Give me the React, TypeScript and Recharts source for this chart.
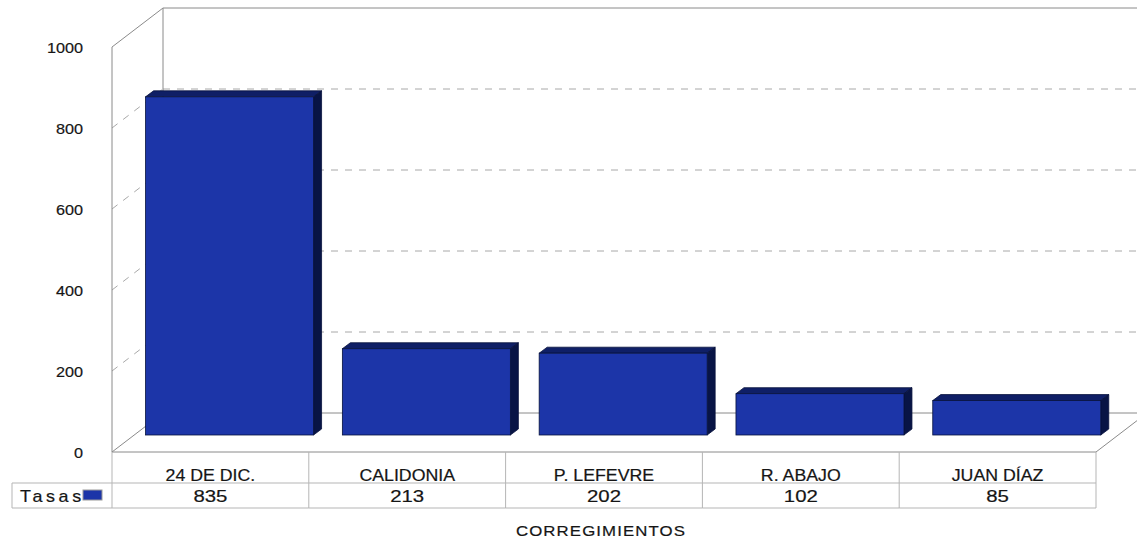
import { BarChart, Bar, XAxis, YAxis, CartesianGrid } from "recharts"

const categories = ["24 DE DIC.", "CALIDONIA", "P. LEFEVRE", "R. ABAJO", "JUAN DÍAZ"]
const tasas = [835, 213, 202, 102, 85]
const yTicks = [0, 200, 400, 600, 800, 1000]
const seriesName = "Tasas"
const axisTitle = "CORREGIMIENTOS"

const data = categories.map((name, i) => ({ name, tasas: tasas[i] }))

// layout
const W = 1137
const H = 541
const LEFT = 112
const RIGHT = 41
const TOP = 47
const XAXIS_H = 89
const BAND = (W - LEFT - RIGHT) / categories.length
const TABLE_TOP = H - XAXIS_H
const ROW1 = 31
const ROW2 = 25
const TASAS_LEFT = 12

// fake 3d
const DEPTH_X = 51
const DEPTH_Y = -39
const BAR_SHIFT_X = 19
const BAR_SHIFT_Y = -17
const BAR_DX = 8
const BAR_DY = -6

const FONT = '"Liberation Sans", Arial, sans-serif'
const FRONT = "#1c35a8"
const TOPFACE = "#0f1f66"
const SIDE = "#081445"
const EDGE = "#07123c"
const WALL = "#8a8a8a"
const TABLE_LINE = "#b5b5b5"
const INK = "#151515"

// scanned text in the source looks wider than normal Arial
function WideText(props: any) {
  const { x, y, sx = 1, size, anchor = "middle", ls = 0, children } = props
  return (
    <text
      transform={`translate(${x},${y}) scale(${sx},1)`}
      textAnchor={anchor}
      fontSize={size}
      fontFamily={FONT}
      fill={INK}
      stroke={INK}
      strokeWidth={0.2}
      letterSpacing={ls}
    >
      {children}
    </text>
  )
}

function Bar3D(props: any) {
  const { x, y, width, height } = props
  if (!height) return null
  const fx = x + BAR_SHIFT_X
  const fy = y + BAR_SHIFT_Y
  const r = fx + width
  const b = fy + height
  return (
    <g>
      <polygon
        points={`${fx},${fy} ${fx + BAR_DX},${fy + BAR_DY} ${r + BAR_DX},${fy + BAR_DY} ${r},${fy}`}
        fill={TOPFACE}
        stroke={EDGE}
        strokeWidth={0.8}
      />
      <polygon
        points={`${r},${fy} ${r + BAR_DX},${fy + BAR_DY} ${r + BAR_DX},${b + BAR_DY} ${r},${b}`}
        fill={SIDE}
        stroke={EDGE}
        strokeWidth={0.8}
      />
      <rect x={fx} y={fy} width={width} height={height} fill={FRONT} stroke={EDGE} strokeWidth={0.8} />
    </g>
  )
}

// every horizontal grid line becomes side wall + back wall line
function WallLine(props: any) {
  const { x1, y1, x2, y: top, height } = props
  const bottom = top + height
  const bx1 = x1 + DEPTH_X
  const bx2 = x2 + DEPTH_X
  const by = y1 + DEPTH_Y
  if (Math.abs(y1 - bottom) < 0.5) {
    return (
      <g stroke={WALL} strokeWidth={1} fill="none">
        <line x1={x1} y1={y1} x2={x2} y2={y1} />
        <line x1={x1} y1={y1} x2={bx1} y2={by} />
        <line x1={bx1} y1={by} x2={bx2} y2={by} />
        <line x1={x2} y1={y1} x2={bx2} y2={by} />
      </g>
    )
  }
  if (Math.abs(y1 - top) < 0.5) {
    return (
      <g stroke={WALL} strokeWidth={1} fill="none">
        <line x1={x1} y1={y1} x2={bx1} y2={by} />
        <line x1={bx1} y1={by} x2={bx2} y2={by} />
        <line x1={x1} y1={y1} x2={x1} y2={y1 + height} />
        <line x1={bx1} y1={by} x2={bx1} y2={by + height} />
      </g>
    )
  }
  return (
    <g stroke="#a8a8a8" strokeWidth={1} strokeDasharray="7 7" fill="none">
      <line x1={x1} y1={y1} x2={bx1} y2={by} />
      <line x1={bx1} y1={by} x2={bx2} y2={by} />
    </g>
  )
}

function YTick(props: any) {
  const { x, y, payload } = props
  return (
    <WideText x={x} y={y + 5.5} sx={1.08} size={15} anchor="end">
      {payload.value}
    </WideText>
  )
}

function TableTick(props: any) {
  const { x, payload } = props
  const i = categories.indexOf(payload.value)
  const l = x - BAND / 2
  const r = x + BAND / 2
  const mid = TABLE_TOP + ROW1
  const bot = mid + ROW2
  return (
    <g>
      <g stroke={TABLE_LINE} strokeWidth={1}>
        <line x1={r} y1={TABLE_TOP} x2={r} y2={bot} />
        <line x1={l} y1={mid} x2={r} y2={mid} />
        <line x1={l} y1={bot} x2={r} y2={bot} />
        {i === 0 && <line x1={l} y1={TABLE_TOP} x2={l} y2={bot} />}
      </g>
      <WideText x={x} y={TABLE_TOP + 28.5} sx={1.11} size={16}>
        {payload.value}
      </WideText>
      <WideText x={x} y={mid + 18.5} sx={1.2} size={17}>
        {tasas[i]}
      </WideText>
      {i === 0 && (
        <g>
          <g stroke={TABLE_LINE} strokeWidth={1}>
            <line x1={TASAS_LEFT} y1={mid} x2={l} y2={mid} />
            <line x1={TASAS_LEFT} y1={bot} x2={l} y2={bot} />
            <line x1={TASAS_LEFT} y1={mid} x2={TASAS_LEFT} y2={bot} />
          </g>
          <WideText x={TASAS_LEFT + 8} y={mid + 18.5} sx={1.12} size={16} anchor="start" ls={3.2}>
            {seriesName}
          </WideText>
          <rect x={l - 29} y={mid + 7} width={19} height={10} fill={FRONT} stroke="#9a9a9a" strokeWidth={1} />
        </g>
      )}
    </g>
  )
}

function AxisTitle(props: any) {
  const { viewBox } = props
  const cx = viewBox.x + viewBox.width / 2
  const by = viewBox.y + viewBox.height - 5
  return (
    <WideText x={cx - 3} y={by} sx={1.12} size={15} ls={1}>
      {axisTitle}
    </WideText>
  )
}

export default function App() {
  return (
    <div style={{ position: "absolute", left: 0, top: 0, width: W, height: H, background: "#fff" }}>
      <BarChart
        width={W}
        height={H}
        data={data}
        margin={{ top: TOP, right: RIGHT, left: 0, bottom: 0 }}
        barCategoryGap="7.4%"
      >
        <CartesianGrid vertical={false} horizontal={WallLine} />
        <XAxis
          dataKey="name"
          height={XAXIS_H}
          axisLine={false}
          tickLine={false}
          interval={0}
          tick={TableTick}
          label={<AxisTitle />}
        />
        <YAxis
          width={LEFT}
          domain={[0, 1000]}
          ticks={yTicks}
          axisLine={false}
          tickLine={false}
          tickSize={0}
          tickMargin={29}
          tick={YTick}
        />
        <Bar dataKey="tasas" name={seriesName} shape={Bar3D} isAnimationActive={false} />
      </BarChart>
    </div>
  )
}
